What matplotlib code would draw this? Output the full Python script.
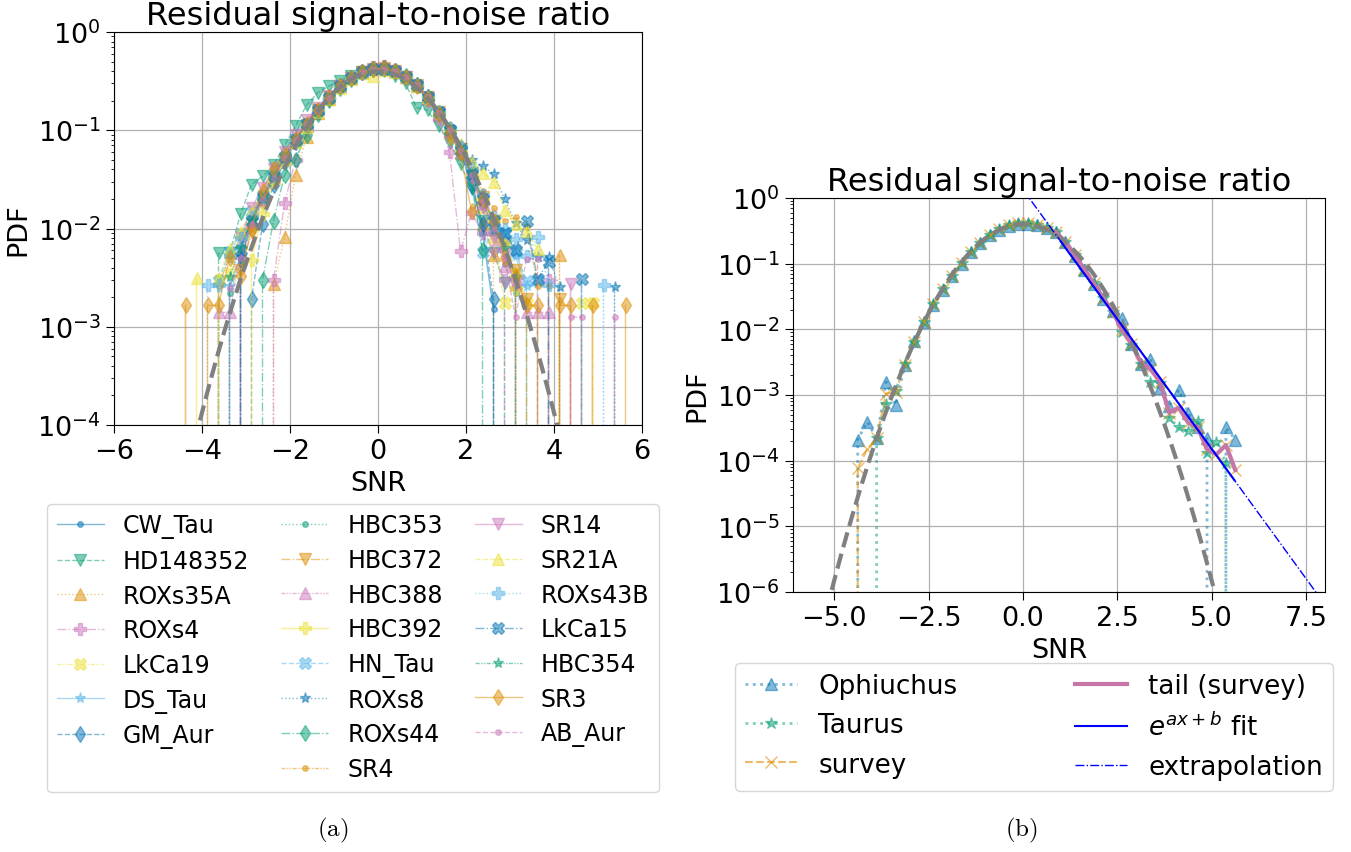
import numpy as np
import matplotlib
matplotlib.use("Agg")
import matplotlib.pyplot as plt
from matplotlib.lines import Line2D

# ---------------- data ----------------
bin_centers = [-4.625, -4.375, -4.125, -3.875, -3.625, -3.375, -3.125, -2.875, -2.625, -2.375, -2.125,
               -1.875, -1.625, -1.375, -1.125, -0.875, -0.625, -0.375, -0.125, 0.125, 0.375,
               0.625, 0.875, 1.125, 1.375, 1.625, 1.875, 2.125, 2.375, 2.625, 2.875,
               3.125, 3.375, 3.625, 3.875, 4.125, 4.375, 4.625, 4.875, 5.125, 5.375, 5.625]

source_names = ["CW_Tau", "HD148352", "ROXs35A", "ROXs4", "LkCa19", "DS_Tau", "GM_Aur",
                "HBC353", "HBC372", "HBC388", "HBC392", "HN_Tau", "ROXs8", "ROXs44", "SR4",
                "SR14", "SR21A", "ROXs43B", "LkCa15", "HBC354", "SR3", "AB_Aur"]

CW_Tau = [0, 0, 0, 0, 0, 0, 4.5e-3, 0.012, 0.021, 0.035, 0.055,
          0.082, 0.118, 0.165, 0.22, 0.285, 0.345, 0.39, 0.42, 0.42, 0.395,
          0.345, 0.28, 0.21, 0.148, 0.098, 0.06, 0.034, 0.009, 1.5e-3, 0,
          0, 0, 0, 0, 0, 0, 0, 0, 0, 0, 0]
HD148352 = [0, 0, 0, 0, 5.6e-3, 5.6e-3, 0.014, 0.028, 0.034, 0.044, 0.07,
            0.11, 0.18, 0.24, 0.28, 0.32, 0.36, 0.39, 0.40, 0.40, 0.36,
            0.30, 0.17, 0.16, 0.11, 0.075, 0.045, 0.025, 0.012, 5.6e-3, 2.8e-3,
            0, 0, 0, 0, 0, 0, 0, 0, 0, 0, 0]
ROXs35A = [0, 0, 0, 0, 0, 0, 0, 0, 0, 2.7e-3, 8.1e-3,
           0.035, 0.085, 0.15, 0.21, 0.28, 0.34, 0.39, 0.42, 0.43, 0.40,
           0.35, 0.29, 0.22, 0.155, 0.10, 0.06, 0.032, 0.011, 5.4e-3, 0,
           2.7e-3, 0, 0, 0, 5.4e-3, 0, 0, 0, 0, 0, 0]
ROXs4 = [0, 0, 0, 0, 0, 0, 0, 0, 0, 3e-3, 0.018,
         0.05, 0.10, 0.15, 0.21, 0.28, 0.34, 0.40, 0.44, 0.45, 0.41,
         0.35, 0.28, 0.20, 0.13, 0.06, 5.9e-3, 0.0145, 0.009, 6e-3, 3e-3,
         0, 0, 0, 3e-3, 0, 0, 0, 0, 0, 0, 0]
LkCa19 = [0, 0, 0, 0, 3.0e-3, 3.5e-3, 8.7e-3, 0.012, 0.02, 0.032, 0.05,
          0.078, 0.112, 0.158, 0.212, 0.278, 0.338, 0.388, 0.418, 0.42, 0.398,
          0.348, 0.285, 0.214, 0.150, 0.100, 0.063, 0.036, 0.016, 0.008, 1.74e-3,
          3.5e-3, 1.74e-3, 0, 0, 0, 0, 1.74e-3, 1.74e-3, 0, 0, 0]
DS_Tau = [0, 0, 0, 0, 0, 2.6e-3, 5.2e-3, 0.010, 0.019, 0.032, 0.051,
          0.079, 0.113, 0.160, 0.218, 0.282, 0.342, 0.392, 0.418, 0.424, 0.402,
          0.352, 0.288, 0.218, 0.152, 0.102, 0.064, 0.037, 0.018, 0.011, 7.8e-3,
          5.2e-3, 2.6e-3, 0, 0, 0, 0, 0, 0, 0, 0, 0]
GM_Aur = [0, 0, 0, 0, 0, 0, 0, 1.9e-3, 0.011, 0.028, 0.047,
          0.076, 0.112, 0.158, 0.214, 0.281, 0.341, 0.391, 0.421, 0.426, 0.401,
          0.351, 0.286, 0.216, 0.151, 0.100, 0.061, 0.027, 0.011, 1.9e-3, 0,
          0, 0, 0, 0, 0, 0, 0, 0, 0, 0, 0]
HBC353 = [0, 0, 0, 0, 0, 2.2e-3, 4.4e-3, 0.011, 0.020, 0.034, 0.053,
          0.081, 0.116, 0.162, 0.216, 0.279, 0.339, 0.389, 0.419, 0.424, 0.399,
          0.349, 0.284, 0.214, 0.149, 0.099, 0.061, 0.035, 0.017, 0.009, 4.4e-3,
          2.2e-3, 0, 0, 0, 0, 0, 0, 0, 0, 0, 0]
HBC372 = [0, 0, 0, 0, 0, 0, 3.8e-3, 0.009, 0.018, 0.031, 0.050,
          0.078, 0.114, 0.160, 0.216, 0.283, 0.343, 0.392, 0.422, 0.428, 0.402,
          0.352, 0.288, 0.218, 0.153, 0.081, 0.064, 0.037, 0.021, 0.012, 0.007,
          3.8e-3, 1.9e-3, 0, 0, 1.9e-3, 0, 0, 0, 0, 0, 0]
HBC388 = [0, 0, 0, 0, 1.4e-3, 1.4e-3, 5.6e-3, 0.012, 0.020, 0.034, 0.054,
          0.083, 0.118, 0.163, 0.218, 0.281, 0.341, 0.388, 0.418, 0.423, 0.398,
          0.348, 0.283, 0.213, 0.148, 0.098, 0.060, 0.034, 0.018, 0.010, 4.2e-3,
          2.8e-3, 1.4e-3, 1.4e-3, 1.4e-3, 0, 0, 0, 0, 0, 0, 0]
HBC392 = [0, 0, 0, 0, 0, 0, 0, 4.8e-3, 0.014, 0.030, 0.050,
          0.079, 0.114, 0.159, 0.214, 0.279, 0.339, 0.389, 0.419, 0.424, 0.399,
          0.349, 0.284, 0.214, 0.150, 0.100, 0.062, 0.036, 0.020, 0.012, 7.2e-3,
          2.4e-3, 0, 0, 0, 0, 0, 0, 0, 0, 0, 0]
HN_Tau = [0, 0, 0, 0, 2.9e-3, 5.8e-3, 8.7e-3, 0.015, 0.022, 0.036, 0.055,
          0.083, 0.117, 0.162, 0.216, 0.279, 0.338, 0.387, 0.417, 0.422, 0.398,
          0.350, 0.287, 0.217, 0.152, 0.101, 0.061, 0.030, 5.7e-3, 0.010, 8.7e-3,
          5.8e-3, 2.9e-3, 2.9e-3, 0, 0, 0, 0, 0, 0, 0, 0]
ROXs8 = [0, 0, 0, 0, 0, 0, 5.1e-3, 0.012, 0.022, 0.035, 0.054,
         0.081, 0.115, 0.158, 0.212, 0.276, 0.336, 0.386, 0.416, 0.421, 0.398,
         0.350, 0.290, 0.222, 0.158, 0.108, 0.070, 0.050, 0.043, 0.036, 0.020,
         0.0114, 7.6e-3, 5.1e-3, 5.1e-3, 2.55e-3, 0, 0, 0, 0, 2.55e-3, 0]
ROXs44 = [0, 0, 0, 0, 0, 0, 0, 0, 3e-3, 0.012, 0.035,
          0.050, 0.090, 0.145, 0.205, 0.272, 0.335, 0.388, 0.420, 0.428, 0.404,
          0.354, 0.288, 0.217, 0.150, 0.098, 0.058, 0.030, 6e-3, 0, 0,
          0, 0, 0, 0, 0, 0, 0, 0, 0, 0, 0]
SR4 = [0, 0, 0, 0, 2.6e-3, 5.2e-3, 7.8e-3, 0.013, 0.021, 0.034, 0.053,
       0.080, 0.114, 0.158, 0.212, 0.276, 0.336, 0.386, 0.416, 0.421, 0.398,
       0.350, 0.287, 0.218, 0.153, 0.103, 0.066, 0.040, 0.024, 0.016, 0.012,
       0.013, 0.0105, 2.6e-3, 2.6e-3, 0, 0, 0, 0, 0, 0, 0]
SR14 = [0, 0, 0, 0, 0, 0, 8e-3, 0.016, 0.026, 0.040, 0.060,
        0.090, 0.128, 0.170, 0.222, 0.282, 0.338, 0.385, 0.412, 0.418, 0.396,
        0.347, 0.282, 0.211, 0.146, 0.096, 0.059, 0.033, 0.016, 0.008, 5.5e-3,
        2.75e-3, 0, 0, 0, 0, 2.75e-3, 0, 0, 0, 0, 0]
SR21A = [0, 0, 3.1e-3, 0, 3.1e-3, 6.2e-3, 9.3e-3, 0.015, 0.022, 0.034, 0.052,
         0.076, 0.108, 0.152, 0.208, 0.272, 0.332, 0.382, 0.36, 0.412, 0.392,
         0.346, 0.284, 0.218, 0.156, 0.108, 0.072, 0.048, 0.037, 0.030, 0.0156,
         0.011, 9.4e-3, 6.2e-3, 0, 0, 0, 0, 0, 0, 0, 0]
ROXs43B = [0, 0, 0, 2.65e-3, 2.65e-3, 5.3e-3, 8.0e-3, 0.013, 0.021, 0.034, 0.053,
           0.080, 0.114, 0.158, 0.213, 0.277, 0.337, 0.387, 0.417, 0.422, 0.400,
           0.352, 0.289, 0.220, 0.155, 0.105, 0.067, 0.040, 0.022, 0.013, 0.010,
           7.9e-3, 5.3e-3, 8.1e-3, 2.65e-3, 0, 0, 0, 0, 2.65e-3, 0, 0]
LkCa15 = [0, 0, 0, 0, 0, 0, 6.1e-3, 0.012, 0.021, 0.034, 0.053,
          0.080, 0.115, 0.160, 0.215, 0.279, 0.339, 0.389, 0.419, 0.424, 0.400,
          0.351, 0.287, 0.217, 0.152, 0.101, 0.063, 0.036, 0.020, 0.012, 9.1e-3,
          6.1e-3, 0.012, 3.05e-3, 4.6e-3, 0, 0, 3.05e-3, 0, 0, 0, 0]
HBC354 = [0, 0, 0, 0, 0, 3.2e-3, 6.4e-3, 0.012, 0.020, 0.033, 0.052,
          0.080, 0.114, 0.160, 0.214, 0.278, 0.338, 0.388, 0.418, 0.423, 0.399,
          0.349, 0.285, 0.215, 0.150, 0.100, 0.062, 0.036, 0.020, 9.6e-3, 6.4e-3,
          3.2e-3, 0, 0, 0, 0, 0, 0, 0, 0, 0, 0]
SR3 = [0, 1.65e-3, 0, 1.65e-3, 1.65e-3, 5.0e-3, 3.3e-3, 0.010, 0.024, 0.040, 0.056,
       0.082, 0.116, 0.162, 0.217, 0.281, 0.341, 0.391, 0.421, 0.426, 0.401,
       0.351, 0.285, 0.214, 0.148, 0.097, 0.058, 0.015, 0.020, 0.012, 5.0e-3,
       3.3e-3, 1.65e-3, 1.65e-3, 0, 1.65e-3, 1.65e-3, 0, 1.65e-3, 0, 0, 1.65e-3]
AB_Aur = [0, 0, 0, 0, 0, 2.5e-3, 5.0e-3, 0.011, 0.020, 0.033, 0.052,
          0.080, 0.115, 0.160, 0.215, 0.279, 0.339, 0.389, 0.419, 0.424, 0.400,
          0.351, 0.286, 0.216, 0.151, 0.100, 0.062, 0.035, 0.019, 0.010, 5.0e-3,
          1.25e-3, 4.9e-3, 4.9e-3, 0, 0, 1.25e-3, 1.25e-3, 0, 0, 1.25e-3, 0]

left_series = [CW_Tau, HD148352, ROXs35A, ROXs4, LkCa19, DS_Tau, GM_Aur, HBC353, HBC372,
               HBC388, HBC392, HN_Tau, ROXs8, ROXs44, SR4, SR14, SR21A, ROXs43B, LkCa15,
               HBC354, SR3, AB_Aur]

# right panel
Ophiuchus = [0, 2.1e-4, 3.9e-4, 2.2e-4, 1.58e-3, 7.0e-4, 2.9e-3, 6.6e-3, 1.28e-2, 2.35e-2, 4.0e-2,
             6.5e-2, 0.100, 0.150, 0.208, 0.272, 0.330, 0.380, 0.405, 0.405, 0.385,
             0.350, 0.300, 0.212, 0.132, 0.080, 0.049, 0.029, 0.019, 0.0150, 5.9e-3,
             3.0e-3, 3.5e-3, 1.3e-3, 6.8e-4, 1.2e-3, 5.4e-4, 3.2e-4, 2.2e-4, 0, 3.2e-4, 2.1e-4]
Taurus = [0, 0, 0, 2.2e-4, 7.2e-4, 1.15e-3, 3.0e-3, 6.5e-3, 1.3e-2, 2.4e-2, 4.1e-2,
          6.6e-2, 0.102, 0.152, 0.210, 0.275, 0.335, 0.385, 0.410, 0.410, 0.390,
          0.355, 0.300, 0.214, 0.134, 0.081, 0.050, 0.030, 0.0182, 0.0092, 5.8e-3,
          3.0e-3, 1.6e-3, 1.5e-3, 4.5e-4, 3.2e-4, 2.8e-4, 4.0e-4, 1.3e-4, 1.9e-4, 9.3e-5, 0]
survey = [0, 7.6e-5, 1.5e-4, 2.2e-4, 1.05e-3, 1.1e-3, 2.9e-3, 6.4e-3, 1.3e-2, 2.4e-2, 4.1e-2,
          6.6e-2, 0.103, 0.152, 0.21, 0.275, 0.335, 0.385, 0.41, 0.41, 0.39,
          0.355, 0.30, 0.215, 0.135, 0.082, 0.05, 0.03, 0.0185, 0.0098, 6.0e-3,
          3.1e-3, 2.5e-3, 1.6e-3, 5.4e-4, 6.4e-4, 3.8e-4, 3.2e-4, 1.5e-4, 1.25e-4, 1.73e-4, 7.2e-5]
tail_start = 22          # first bin of the "tail (survey)" segment

# reference standard normal and exponential fit parameters
gauss_mu, gauss_sigma = 0.0, 1.0
fit_a, fit_b = -1.82, 0.30
fit_range = (1.0, 5.6)
extrap_range = (0.0, 8.0)

# ---------------- style ----------------
palette = ["#0173b2", "#029e73", "#de8f05", "#cc78bc", "#ece133", "#56b4e9"]
markers = [".", "v", "^", "P", "X", "*", "d"]
linestyles = ["-", "--", ":", "-.", (0, (3, 1, 1, 1, 1, 1))]

FS = 19.5
plt.rcParams["font.family"] = ["DejaVu Sans"]
fig = plt.figure(figsize=(13.51, 8.53), dpi=100)

W, H = 1351, 853
def axrect(l, r, t, b):
    return [l / W, 1 - b / H, (r - l) / W, (b - t) / H]

axL = fig.add_axes(axrect(114, 642, 33, 426))
axR = fig.add_axes(axrect(793, 1325, 199, 593))

for ax in (axL, axR):
    ax.set_yscale("log")
    ax.grid(True, which="major", color="#b0b0b0", lw=0.9)
    ax.set_axisbelow(True)
    ax.tick_params(labelsize=FS, which="major", length=6)
    ax.set_xlabel("SNR", fontsize=FS)
    ax.set_ylabel("PDF", fontsize=FS)
    ax.set_title("Residual signal-to-noise ratio", fontsize=23)

x = np.array(bin_centers)

# left panel
handles, labels = [], []
for i, (name, vals) in enumerate(zip(source_names, left_series)):
    h, = axL.plot(x, vals, color=palette[i % 6], marker=markers[i % 7],
                  ls=linestyles[i % 5], lw=1.0, ms=8, alpha=0.5, label=name)
    handles.append(h)
    labels.append(name)
    if i == 6:
        handles.append(Line2D([], [], color="none"))
        labels.append(" ")

xg = np.linspace(-6.5, 8.5, 600)
pdf_g = np.exp(-0.5 * ((xg - gauss_mu) / gauss_sigma) ** 2) / (gauss_sigma * np.sqrt(2 * np.pi))
axL.plot(xg, pdf_g, color="gray", ls="--", lw=3, zorder=5)
axL.set_xlim(-6, 6)
axL.set_ylim(1e-4, 1e0)
axL.set_xticks([-6, -4, -2, 0, 2, 4, 6])

legL = axL.legend(handles, labels, ncol=3, fontsize=17, loc="upper center",
                  bbox_to_anchor=(353 / W, 1 - 505 / H), bbox_transform=fig.transFigure,
                  borderaxespad=0, columnspacing=1.36, handlelength=2.0, labelspacing=0.45)

# right panel
axR.plot(x, Ophiuchus, color=palette[0], marker="^", ls=":", lw=2, ms=9, alpha=0.5, label="Ophiuchus")
axR.plot(x, Taurus, color=palette[1], marker="*", ls=":", lw=2, ms=9, alpha=0.5, label="Taurus")
axR.plot(x, survey, color=palette[2], marker="x", ls="--", lw=1.5, ms=8, alpha=0.6, label="survey")
axR.plot(x[tail_start:], survey[tail_start:], color="#c677a8", lw=3, label="tail (survey)", zorder=4)
xf = np.linspace(fit_range[0], fit_range[1], 100)
axR.plot(xf, np.exp(fit_a * xf + fit_b), color="blue", lw=1.5, label=r"$e^{ax+b}$ fit", zorder=6)
xe = np.linspace(extrap_range[0], extrap_range[1], 100)
axR.plot(xe, np.exp(fit_a * xe + fit_b), color="blue", ls="-.", lw=1, label="extrapolation", zorder=6)
axR.plot(xg, pdf_g, color="gray", ls="--", lw=3, zorder=5)
axR.set_xlim(-6.09, 8.0)
axR.set_ylim(1e-6, 1e0)
axR.set_xticks([-5.0, -2.5, 0.0, 2.5, 5.0, 7.5])
axR.set_xticklabels(["\u22125.0", "\u22122.5", "0.0", "2.5", "5.0", "7.5"])

legR = axR.legend(ncol=2, fontsize=18.8, loc="upper center",
                  bbox_to_anchor=(1034 / W, 1 - 664 / H), bbox_transform=fig.transFigure,
                  borderaxespad=0, columnspacing=4.5, handlelength=2.0, labelspacing=0.5)

fig.text(333 / W, 1 - 830 / H, r"$\mathrm{(a)}$", fontsize=18, math_fontfamily="cm",
         ha="center", va="center")
fig.text(1021 / W, 1 - 830 / H, r"$\mathrm{(b)}$", fontsize=18, math_fontfamily="cm",
         ha="center", va="center")

fig.savefig("out.png", dpi=100)
